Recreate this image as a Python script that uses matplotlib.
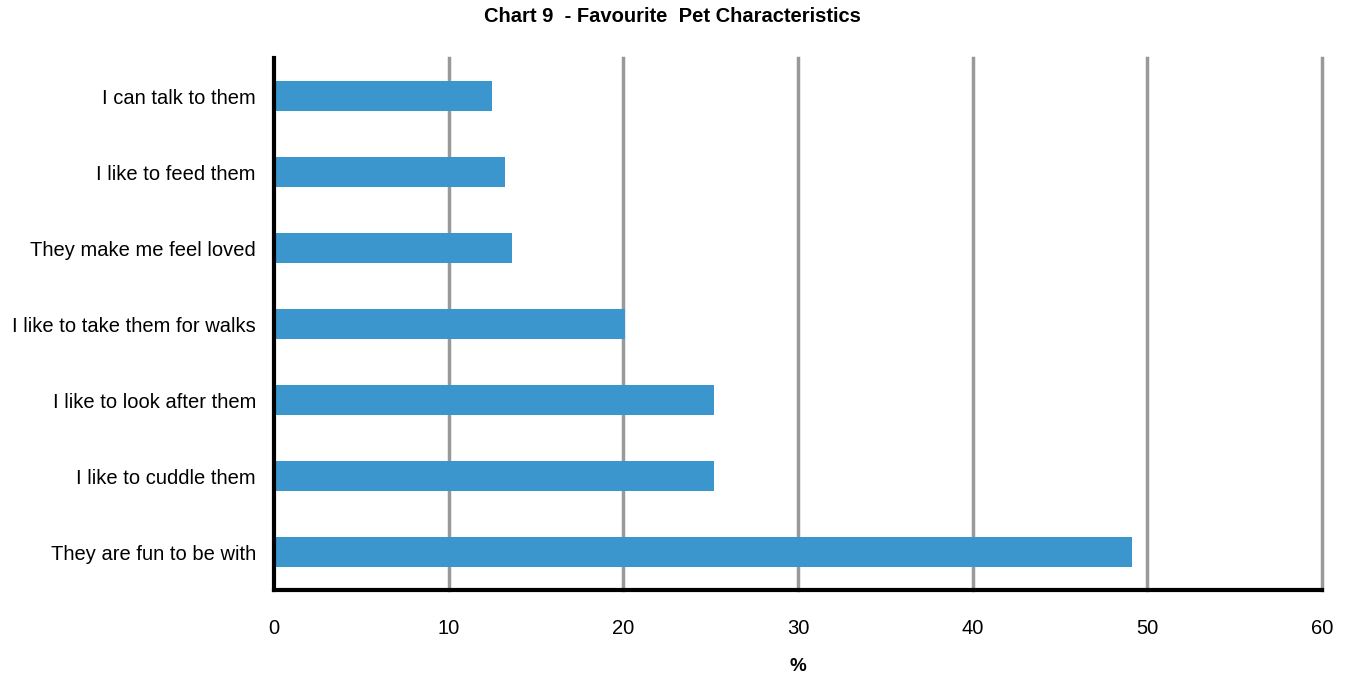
import matplotlib
matplotlib.use("Agg")
import matplotlib.pyplot as plt

categories = ["I can talk to them", "I like to feed them", "They make me feel loved",
              "I like to take them for walks", "I like to look after them",
              "I like to cuddle them", "They are fun to be with"]
values = [12.5, 13.2, 13.6, 20.1, 25.2, 25.2, 49.1]
xticks = [0, 10, 20, 30, 40, 50, 60]

plt.rcParams['font.family'] = ['Liberation Sans', 'DejaVu Sans']

fig = plt.figure(figsize=(13.51, 6.79), dpi=100)
ax = fig.add_axes([274/1351, 89/679, (1322-274)/1351, (590-58)/679])

y = list(range(len(categories)))
ax.barh(y, values, height=0.39, color="#3A96CC", zorder=3)
ax.set_ylim(len(categories) - 0.5, -0.5)
ax.set_xlim(0, 60)
ax.set_xticks(xticks)
ax.set_yticks(y)
ax.set_yticklabels(categories, fontsize=14.5)
ax.tick_params(axis='y', length=0, pad=13)
ax.tick_params(axis='x', length=0, pad=21, labelsize=14.5)
for x in xticks[1:]:
    ax.axvline(x, color="#999999", lw=2.5, zorder=1, clip_on=False)
for s in ["top", "right"]:
    ax.spines[s].set_visible(False)
for s in ["left", "bottom"]:
    ax.spines[s].set_linewidth(3)
    ax.spines[s].set_color("black")
    ax.spines[s].set_zorder(4)
ax.set_xlabel("%", fontsize=13.5, fontweight="bold", labelpad=14)
fig.text(672/1351, 1 - 17/679, "Chart 9  - Favourite  Pet Characteristics",
         ha="center", va="center", fontsize=14.5, fontweight="bold")
fig.savefig("out.png", dpi=100)
